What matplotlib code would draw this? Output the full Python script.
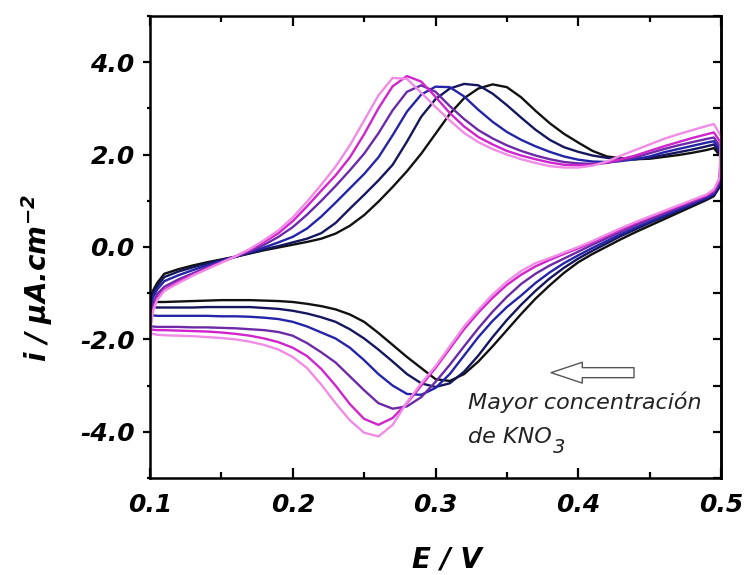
import matplotlib
matplotlib.use('Agg')
import matplotlib.pyplot as plt
from matplotlib.ticker import MultipleLocator, FormatStrFormatter
from matplotlib.transforms import IdentityTransform

plt.rcParams['font.family'] = ['DejaVu Sans']
plt.rcParams['axes.unicode_minus'] = False
plt.rcParams['mathtext.fontset'] = 'custom'
plt.rcParams['mathtext.bf'] = 'DejaVu Sans:bold:italic'
plt.rcParams['mathtext.it'] = 'DejaVu Sans:italic'
plt.rcParams['mathtext.rm'] = 'DejaVu Sans:bold:italic'

# ---- data ------------------------------------------------------------
# potential grid, forward sweep (0.1 -> 0.5) and reverse sweep (0.5 -> 0.1)
E_FWD = [0.100, 0.102, 0.105, 0.11, 0.12, 0.13, 0.14, 0.15, 0.16, 0.17,
         0.18, 0.19, 0.20, 0.21, 0.22, 0.23, 0.24, 0.25, 0.26, 0.27,
         0.28, 0.29, 0.30, 0.31, 0.32, 0.33, 0.34, 0.35, 0.36, 0.37,
         0.38, 0.39, 0.40, 0.41, 0.42, 0.43, 0.44, 0.45, 0.46, 0.47,
         0.48, 0.49, 0.495, 0.500]
E_REV = [0.499, 0.495, 0.49, 0.48, 0.47, 0.46, 0.45, 0.44, 0.43, 0.42,
         0.41, 0.40, 0.39, 0.38, 0.37, 0.36, 0.35, 0.34, 0.33, 0.32,
         0.31, 0.30, 0.29, 0.28, 0.27, 0.26, 0.25, 0.24, 0.23, 0.22,
         0.21, 0.20, 0.19, 0.18, 0.17, 0.16, 0.15, 0.14, 0.13, 0.12,
         0.11, 0.105, 0.102, 0.100]

# current density, µA/cm2 (lowest KNO3 -> highest KNO3)
black_fwd = [-1.20, -0.95, -0.78, -0.58, -0.48, -0.40, -0.33, -0.27, -0.21, -0.14,
             -0.07, -0.01, 0.05, 0.11, 0.18, 0.29, 0.46, 0.69, 0.98, 1.30,
             1.64, 2.02, 2.45, 2.88, 3.22, 3.43, 3.52, 3.46, 3.24, 2.95,
             2.68, 2.45, 2.26, 2.08, 1.96, 1.92, 1.90, 1.91, 1.95, 1.99,
             2.04, 2.10, 2.14, 1.95]
black_rev = [1.30, 1.10, 1.02, 0.88, 0.74, 0.60, 0.46, 0.32, 0.17, 0.01,
             -0.15, -0.33, -0.56, -0.83, -1.12, -1.45, -1.80, -2.15, -2.48, -2.75,
             -2.90, -2.86, -2.62, -2.38, -2.12, -1.86, -1.62, -1.46, -1.35, -1.28,
             -1.23, -1.19, -1.17, -1.16, -1.15, -1.15, -1.15, -1.16, -1.17, -1.18,
             -1.19, -1.19, -1.20, -1.20]

navy_fwd = [-1.30, -1.00, -0.85, -0.65, -0.53, -0.44, -0.36, -0.28, -0.21, -0.13,
            -0.05, 0.02, 0.10, 0.18, 0.30, 0.52, 0.83, 1.13, 1.44, 1.78,
            2.28, 2.82, 3.20, 3.43, 3.53, 3.50, 3.32, 3.07, 2.80, 2.54,
            2.32, 2.16, 2.06, 1.98, 1.93, 1.90, 1.90, 1.93, 1.99, 2.05,
            2.11, 2.18, 2.22, 2.00]
navy_rev = [1.32, 1.12, 1.04, 0.91, 0.78, 0.65, 0.52, 0.38, 0.24, 0.08,
            -0.08, -0.25, -0.45, -0.68, -0.95, -1.25, -1.58, -1.95, -2.35, -2.70,
            -2.95, -3.03, -2.95, -2.75, -2.48, -2.22, -1.98, -1.78, -1.62, -1.52,
            -1.44, -1.38, -1.34, -1.32, -1.30, -1.30, -1.30, -1.30, -1.31, -1.31,
            -1.31, -1.31, -1.30, -1.30]

blue_fwd = [-1.48, -1.10, -0.92, -0.74, -0.61, -0.50, -0.40, -0.30, -0.21, -0.11,
            -0.01, 0.10, 0.22, 0.40, 0.66, 0.96, 1.27, 1.58, 1.94, 2.42,
            2.93, 3.30, 3.47, 3.46, 3.26, 2.97, 2.71, 2.49, 2.32, 2.18,
            2.06, 1.96, 1.89, 1.85, 1.84, 1.86, 1.90, 1.96, 2.05, 2.12,
            2.19, 2.26, 2.29, 2.08]
blue_rev = [1.35, 1.15, 1.07, 0.94, 0.81, 0.68, 0.55, 0.42, 0.28, 0.13,
            -0.02, -0.18, -0.35, -0.55, -0.78, -1.05, -1.30, -1.60, -1.95, -2.35,
            -2.75, -3.05, -3.20, -3.18, -3.00, -2.75, -2.45, -2.18, -1.98, -1.85,
            -1.72, -1.62, -1.56, -1.53, -1.51, -1.50, -1.50, -1.49, -1.49, -1.49,
            -1.49, -1.49, -1.48, -1.48]

purple_fwd = [-1.72, -1.25, -1.02, -0.86, -0.70, -0.57, -0.44, -0.32, -0.21, -0.09,
              0.05, 0.22, 0.43, 0.70, 1.00, 1.32, 1.66, 2.02, 2.46, 2.96,
              3.36, 3.50, 3.36, 3.05, 2.77, 2.53, 2.35, 2.20, 2.08, 1.98,
              1.90, 1.84, 1.81, 1.80, 1.82, 1.87, 1.94, 2.03, 2.12, 2.20,
              2.27, 2.34, 2.37, 2.15]
purple_rev = [1.40, 1.19, 1.10, 0.97, 0.85, 0.72, 0.60, 0.47, 0.33, 0.19,
              0.05, -0.10, -0.25, -0.40, -0.58, -0.80, -1.08, -1.40, -1.76, -2.15,
              -2.55, -2.92, -3.25, -3.45, -3.50, -3.38, -3.10, -2.80, -2.50, -2.28,
              -2.08, -1.92, -1.84, -1.80, -1.78, -1.76, -1.75, -1.74, -1.74, -1.73,
              -1.73, -1.73, -1.72, -1.72]

magenta_fwd = [-1.78, -1.35, -1.10, -0.92, -0.75, -0.60, -0.46, -0.33, -0.20, -0.06,
               0.11, 0.30, 0.56, 0.88, 1.22, 1.55, 1.94, 2.44, 3.00, 3.48,
               3.70, 3.58, 3.25, 2.90, 2.61, 2.38, 2.22, 2.08, 1.98, 1.90,
               1.83, 1.78, 1.77, 1.78, 1.83, 1.90, 1.98, 2.08, 2.18, 2.27,
               2.36, 2.44, 2.48, 2.25]
magenta_rev = [1.45, 1.22, 1.12, 1.00, 0.88, 0.76, 0.64, 0.51, 0.38, 0.24,
               0.10, -0.03, -0.15, -0.28, -0.42, -0.60, -0.82, -1.10, -1.42, -1.78,
               -2.20, -2.62, -3.00, -3.38, -3.70, -3.85, -3.72, -3.40, -3.00, -2.64,
               -2.36, -2.18, -2.06, -1.98, -1.92, -1.88, -1.85, -1.83, -1.82, -1.81,
               -1.80, -1.80, -1.79, -1.78]

pink_fwd = [-1.85, -1.40, -1.15, -0.95, -0.78, -0.62, -0.48, -0.34, -0.20, -0.04,
            0.15, 0.36, 0.64, 0.98, 1.35, 1.74, 2.20, 2.74, 3.28, 3.66,
            3.64, 3.34, 3.03, 2.74, 2.47, 2.27, 2.12, 2.00, 1.90, 1.82,
            1.75, 1.72, 1.72, 1.76, 1.85, 1.98, 2.10, 2.22, 2.34, 2.44,
            2.53, 2.62, 2.66, 2.40]
pink_rev = [1.50, 1.25, 1.14, 1.02, 0.90, 0.78, 0.66, 0.54, 0.41, 0.27,
            0.13, 0.00, -0.12, -0.24, -0.35, -0.52, -0.75, -1.03, -1.36, -1.72,
            -2.15, -2.58, -2.95, -3.36, -3.85, -4.10, -4.02, -3.75, -3.38, -2.98,
            -2.62, -2.38, -2.22, -2.12, -2.05, -2.00, -1.97, -1.95, -1.93, -1.92,
            -1.91, -1.90, -1.88, -1.85]

CURVES_FWD = [black_fwd, navy_fwd, blue_fwd, purple_fwd, magenta_fwd, pink_fwd]
CURVES_REV = [black_rev, navy_rev, blue_rev, purple_rev, magenta_rev, pink_rev]
COLORS = ['#111111', '#16165e', '#2424a8', '#6c2aa8', '#d024cc', '#f08ce6']

X_TICKS = [0.1, 0.2, 0.3, 0.4, 0.5]
Y_TICKS = [-4.0, -2.0, 0.0, 2.0, 4.0]

# ---- figure ----------------------------------------------------------
fig = plt.figure(figsize=(7.48, 5.75), dpi=100)
fig.patch.set_facecolor('white')
ax = fig.add_axes([150/748, 1-478/575, 571/748, 462/575])

for yf, yr, c in zip(CURVES_FWD, CURVES_REV, COLORS):
    ax.plot(E_FWD + E_REV, yf + yr, color=c, lw=1.7, solid_joinstyle='round')

ax.set_xlim(0.1, 0.5)
ax.set_ylim(-5, 5)
ax.set_xticks(X_TICKS)
ax.set_yticks(Y_TICKS)
ax.xaxis.set_minor_locator(MultipleLocator(0.05))
ax.yaxis.set_minor_locator(MultipleLocator(1.0))
ax.xaxis.set_major_formatter(FormatStrFormatter('%.1f'))
ax.yaxis.set_major_formatter(FormatStrFormatter('%.1f'))

for sp in ax.spines.values():
    sp.set_linewidth(1.8)

ax.tick_params(axis='x', which='both', direction='in', top=True, bottom=True,
               width=1.6, pad=11)
ax.tick_params(axis='x', which='major', length=7)
ax.tick_params(axis='x', which='minor', length=4.5)
ax.tick_params(axis='y', which='both', direction='out', left=True, right=False,
               width=1.6, pad=6)
ax.tick_params(axis='y', which='major', length=5)
ax.tick_params(axis='y', which='minor', length=2.5)
for lab in ax.get_xticklabels() + ax.get_yticklabels():
    lab.set_fontsize(18)
    lab.set_fontweight('bold')
    lab.set_fontstyle('italic')

# inward ticks on the right side
sec = ax.secondary_yaxis('right')
sec.set_yticks(Y_TICKS)
sec.yaxis.set_minor_locator(MultipleLocator(1.0))
sec.tick_params(axis='y', which='both', direction='in', length=6, width=1.6,
                labelright=False)
sec.spines['right'].set_linewidth(1.8)

# axis titles
fig.text(447/748, 1-559/575, 'E / V', ha='center', va='center',
         fontsize=20, fontweight='bold', fontstyle='italic')
fig.text(37/748, 1-278/575, r'i / μA.cm$^{\mathbf{-2}}$', ha='center', va='center',
         rotation=90, fontsize=20, fontweight='bold', fontstyle='italic')

# hollow arrow + note
ax.annotate('', xy=(0.379, -2.72), xytext=(0.441, -2.72),
            arrowprops=dict(arrowstyle='simple,head_length=1.5,head_width=1.0,tail_width=0.48',
                            mutation_scale=15, fc='white', ec='#555555', lw=1.0))
ax.text(0.3225, -3.35, 'Mayor concentración', ha='left', va='center',
        fontsize=16, fontstyle='italic', color='#222222')
t = ax.text(0.3225, -4.11, 'de KNO', ha='left', va='center',
            fontsize=16, fontstyle='italic', color='#222222')
fig.canvas.draw()
bb = t.get_window_extent()
fig.text(bb.x1 + 2, bb.y0 - 10, '3', transform=IdentityTransform(),
         ha='left', va='bottom', fontsize=14, fontstyle='italic', color='#222222')

fig.savefig('out.png', dpi=100, facecolor='white')
